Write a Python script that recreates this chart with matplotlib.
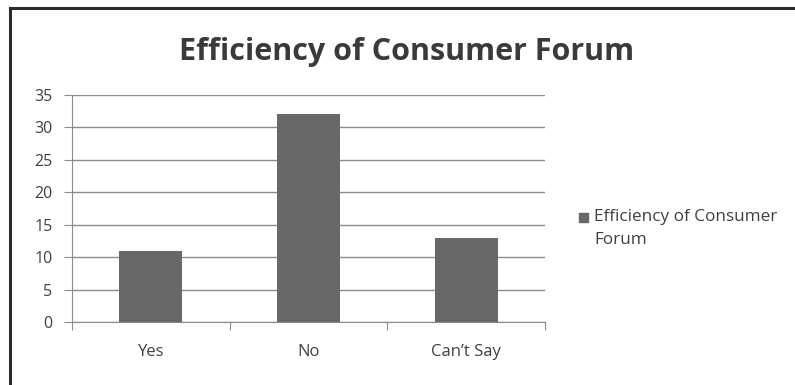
import numpy as np
import matplotlib.pyplot as plt
from matplotlib.lines import Line2D
from matplotlib.patches import Rectangle

categories = ["Yes", "No", "Can\u2019t Say"]
values = [11, 32, 13]
series_name = "Efficiency of Consumer Forum"
yticks = [0, 5, 10, 15, 20, 25, 30, 35]

bar_color = "#686868"
grid_color = "#8c8c8c"
text_color = "#404040"

plt.rcParams['font.family'] = ['Open Sans', 'DejaVu Sans']

fig = plt.figure(figsize=(7.95, 3.85), dpi=100)
fig.patch.set_facecolor("white")

ax = fig.add_axes([72 / 795, 1 - 322 / 385, (545 - 72) / 795, (322 - 95) / 385])
x = np.arange(len(categories))
ax.bar(x, values, width=0.4, color=bar_color, zorder=3)

ax.set_xlim(-0.5, len(categories) - 0.5)
ax.set_ylim(0, 35)
ax.set_yticks(yticks)
ax.set_yticklabels([str(v) for v in yticks], fontsize=11.5, color=text_color)
ax.yaxis.grid(True, color=grid_color, lw=1, zorder=0)
ax.tick_params(axis="y", length=6, color=grid_color, pad=8)

# categories sit between the boundary ticks
ax.set_xticks(np.arange(len(categories) + 1) - 0.5)
ax.set_xticklabels([])
ax.tick_params(axis="x", length=6, color=grid_color)
for xi, lab in zip(x, categories):
    ax.text(xi, -0.13, lab, transform=ax.get_xaxis_transform(),
            ha="center", va="center", fontsize=12, color=text_color)

for side in ["top", "right"]:
    ax.spines[side].set_visible(False)
ax.spines["left"].set_color(grid_color)
ax.spines["bottom"].set_color(grid_color)

fig.text(407 / 795, 1 - 52 / 385, series_name, ha="center", va="center",
         fontsize=22, fontweight="bold", color="#3a3a3a")

# legend
fig.patches.append(Rectangle((579 / 795, 1 - 222 / 385), 9 / 795, 9 / 385,
                             transform=fig.transFigure, color=bar_color))
fig.text(594 / 795, 1 - 217 / 385, "Efficiency of Consumer", ha="left",
         va="center", fontsize=12.3, color=text_color)
fig.text(594 / 795, 1 - 240 / 385, "Forum", ha="left", va="center",
         fontsize=12.3, color=text_color)

# outer frame, left and top edges
fig.add_artist(Line2D([10 / 795, 10 / 795], [0, 1 - 8 / 385],
                      transform=fig.transFigure, color="#2b2b2b", lw=2.2))
fig.add_artist(Line2D([10 / 795, 1], [1 - 8 / 385, 1 - 8 / 385],
                      transform=fig.transFigure, color="#2b2b2b", lw=2.2))

fig.savefig("out.png", dpi=100)
